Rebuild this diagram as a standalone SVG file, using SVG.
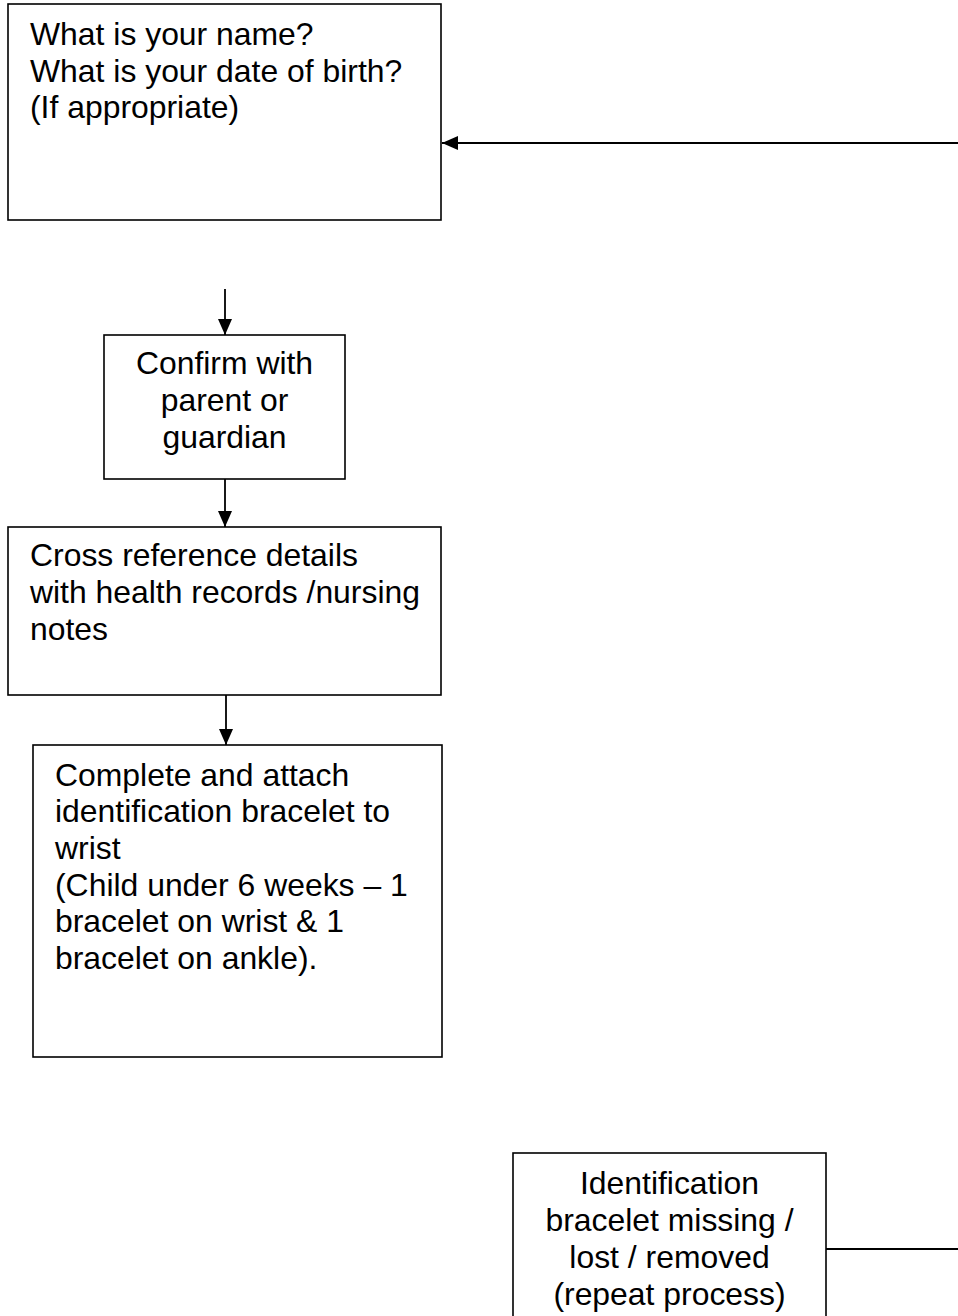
<svg xmlns="http://www.w3.org/2000/svg" width="958" height="1316" viewBox="0 0 958 1316">
<style>
.box{fill:#fff;stroke:#000;stroke-width:1.6}
.t{font-family:"Liberation Sans",Arial,sans-serif;font-size:31.9px;fill:#000}
.c{text-anchor:middle}
.conn{stroke:#000;stroke-width:1.8;fill:none}
</style>
<defs>
<marker id="ah" markerWidth="16" markerHeight="14" refX="16" refY="7" orient="auto" markerUnits="userSpaceOnUse">
<path d="M0,0 L16,7 L0,14 Z" fill="#000"/>
</marker>
</defs>
<rect width="958" height="1316" fill="#fff"/>
<g id="connectors">
<line class="conn" x1="958" y1="143" x2="442" y2="143" marker-end="url(#ah)"/>
<line class="conn" x1="225" y1="289" x2="225" y2="335" marker-end="url(#ah)"/>
<line class="conn" x1="225" y1="479" x2="225" y2="527" marker-end="url(#ah)"/>
<line class="conn" x1="226" y1="695" x2="226" y2="745" marker-end="url(#ah)"/>
<line class="conn" x1="826" y1="1249" x2="958" y2="1249"/>
</g>
<g id="n1">
<rect class="box" x="8" y="4" width="433" height="216"/>
<text class="t" x="30" y="45">What is your name?</text>
<text class="t" x="30" y="81.5">What is your date of birth?</text>
<text class="t" x="30" y="118">(If appropriate)</text>
</g>
<g id="n2">
<rect class="box" x="104" y="335" width="241" height="144"/>
<text class="t c" x="224.5" y="374">Confirm with</text>
<text class="t c" x="224.5" y="411">parent or</text>
<text class="t c" x="224.5" y="448">guardian</text>
</g>
<g id="n3">
<rect class="box" x="8" y="527" width="433" height="168"/>
<text class="t" x="30" y="566">Cross reference details</text>
<text class="t" x="30" y="603">with health records /nursing</text>
<text class="t" x="30" y="640">notes</text>
</g>
<g id="n4">
<rect class="box" x="33" y="745" width="409" height="312"/>
<text class="t" x="55" y="786">Complete and attach</text>
<text class="t" x="55" y="822">identification bracelet to</text>
<text class="t" x="55" y="859">wrist</text>
<text class="t" x="55" y="896">(Child under 6 weeks – 1</text>
<text class="t" x="55" y="932">bracelet on wrist &amp; 1</text>
<text class="t" x="55" y="969">bracelet on ankle).</text>
</g>
<g id="n5">
<rect class="box" x="513" y="1153" width="313" height="180"/>
<text class="t c" x="669.5" y="1194">Identification</text>
<text class="t c" x="669.5" y="1231">bracelet missing /</text>
<text class="t c" x="669.5" y="1268">lost / removed</text>
<text class="t c" x="669.5" y="1305">(repeat process)</text>
</g>
</svg>
